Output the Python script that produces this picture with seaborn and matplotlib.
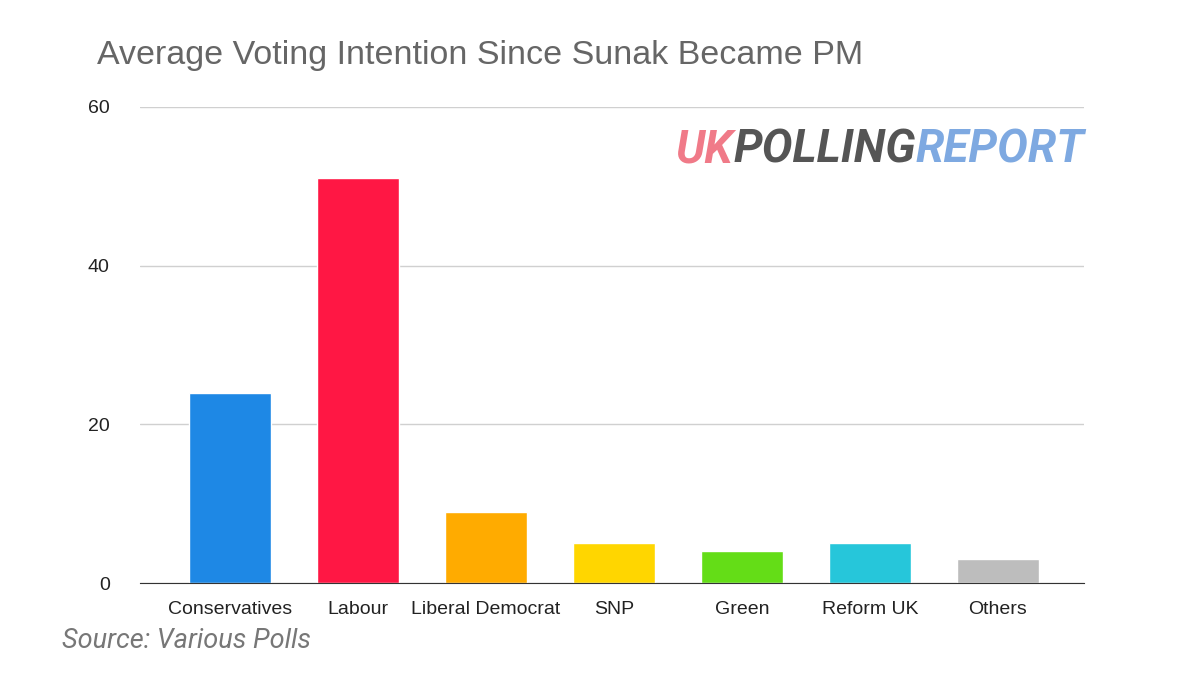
import matplotlib
matplotlib.use("Agg")
import matplotlib.pyplot as plt
import seaborn as sns
import pandas as pd

# -------------------------
# Data
# -------------------------
parties = ["Conservatives", "Labour", "Liberal Democrat", "SNP", "Green", "Reform UK", "Others"]
vote_share = [24, 51, 9, 5, 4, 5, 3]
colors = ["#1E88E5", "#FF1744", "#FFAB00", "#FFD600", "#64DD17", "#26C6DA", "#BDBDBD"]
y_ticks = [0, 20, 40, 60]

df = pd.DataFrame({"party": parties, "share": vote_share})

sns.set_style("white")
plt.rcParams["font.family"] = ["Liberation Sans", "DejaVu Sans"]

fig = plt.figure(figsize=(12, 6.75), dpi=100)
ax = fig.add_axes([0.117, 0.136, 0.786, 0.706])

sns.barplot(data=df, x="party", y="share", hue="party", palette=colors,
            legend=False, width=0.64, ax=ax, saturation=1)

ax.set_xlim(-0.70, 6.67)
ax.set_ylim(0, 60)
ax.set_yticks(y_ticks)
ax.yaxis.grid(True, color="#D0D0D0", linewidth=1)
ax.set_axisbelow(True)
for s in ["top", "right", "left"]:
    ax.spines[s].set_visible(False)
ax.spines["bottom"].set_color("#333333")
ax.set_xlabel("")
ax.set_ylabel("")
ax.tick_params(axis="both", length=0, labelsize=14, labelcolor="#222222")
ax.tick_params(axis="x", pad=13)
ax.tick_params(axis="y", pad=22)

fig.text(0.081, 0.918, "Average Voting Intention Since Sunak Became PM",
         fontsize=24.5, color="#666666", va="center")
fig.text(0.052, 0.05, "Source: Various Polls", fontsize=19.5, color="#777777",
         style="italic", va="center", family=["Roboto", "DejaVu Sans"])

# logo
logo_y = 0.778
logo_font = dict(fontsize=33, fontweight="bold", style="italic", va="center",
                 family=["Roboto", "DejaVu Sans"])
t1 = fig.text(0.563, logo_y, "UK", color="#F07A88", **logo_font)
fig.canvas.draw()
bb = t1.get_window_extent().transformed(fig.transFigure.inverted())
t2 = fig.text(bb.x1, logo_y, "POLLING", color="#555555", **logo_font)
fig.canvas.draw()
bb = t2.get_window_extent().transformed(fig.transFigure.inverted())
fig.text(bb.x1, logo_y, "REPORT", color="#7EA9E1", **logo_font)

fig.savefig("out.png", dpi=100)
